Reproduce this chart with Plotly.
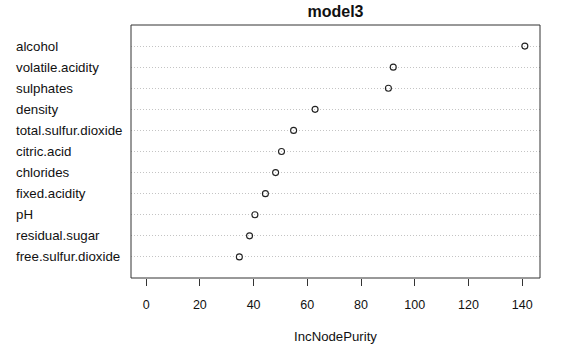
import plotly.graph_objects as go

variables = ["free.sulfur.dioxide", "residual.sugar", "pH", "fixed.acidity", "chlorides",
             "citric.acid", "total.sulfur.dioxide", "density", "sulphates",
             "volatile.acidity", "alcohol"]
inc_node_purity = [34.7, 38.5, 40.5, 44.4, 48.2, 50.4, 54.9, 62.9, 90.2, 92.0, 141.0]
x_ticks = [0, 20, 40, 60, 80, 100, 120, 140]

W, H = 583, 347
L, R, T, B = 131, 43, 25, 69
FONT = "Liberation Sans, Arial, sans-serif"

rows = list(range(1, len(variables) + 1))

fig = go.Figure()
fig.add_trace(go.Scatter(
    x=inc_node_purity, y=rows, mode="markers",
    marker=dict(symbol="circle-open", size=6, color="#222222", line=dict(width=1.1, color="#222222")),
    showlegend=False, hoverinfo="skip"))

xmax = max(inc_node_purity)
pad = 0.04 * xmax

for name, r in zip(variables, rows):
    fig.add_annotation(x=-(L - 14) / (W - L - R), xref="paper", y=r, yref="y",
                       text=name, showarrow=False, xanchor="left", yanchor="middle",
                       font=dict(family=FONT, size=13.3, color="#111111"))

fig.add_shape(type="rect", xref="paper", yref="paper", x0=0, x1=1, y0=0, y1=1,
              line=dict(color="#333333", width=1), fillcolor="rgba(0,0,0,0)", layer="above")

fig.update_layout(
    width=W, height=H, margin=dict(l=L, r=R, t=T, b=B, autoexpand=False),
    paper_bgcolor="white", plot_bgcolor="white",
    title=dict(text="<b>model3</b>", x=(L + (W - L - R) / 2) / W, xanchor="center",
               y=1 - 11 / H, yanchor="middle", yref="container",
               font=dict(family=FONT, size=16, color="#111111")),
    xaxis=dict(range=[0 - pad, xmax + pad], tickvals=x_ticks, ticks="outside", ticklen=7,
               tickcolor="#333333", tickwidth=1, showgrid=False, zeroline=False,
               showline=False, ticklabelstandoff=8, automargin=False,
               tickfont=dict(family=FONT, size=12.5, color="#111111"),
               title=dict(text="IncNodePurity", standoff=20,
                          font=dict(family=FONT, size=13.2, color="#111111"))),
    yaxis=dict(range=[0, len(variables) + 1], tickvals=rows, showticklabels=False, ticks="",
               showgrid=True, gridcolor="#c4c4c4", griddash="1px,2px", gridwidth=1,
               zeroline=False, showline=False, automargin=False),
)

fig.write_html("out.html")
